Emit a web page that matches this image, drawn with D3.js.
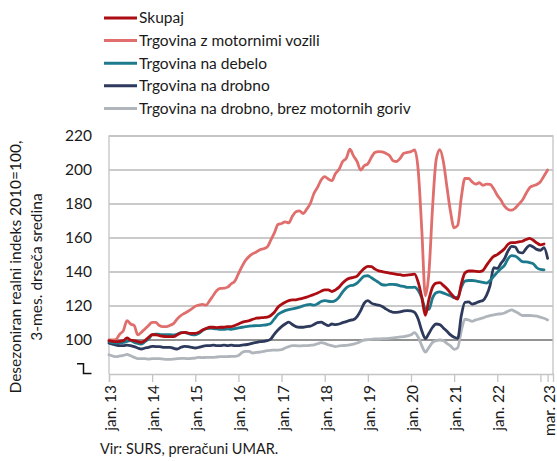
<!DOCTYPE html>
<html>
<head>
<meta charset="utf-8">
<script src="https://cdn.jsdelivr.net/npm/d3@7/dist/d3.min.js"></script>
<style>
	body { margin: 0; background: #fff; }
	svg { display: block; font-family: Lato, 'Open Sans', sans-serif; }
	.lbl { font-size: 15.5px; fill: #1a1a1a; }
</style>
</head>
<body>
<script>

// mesečni podatki jan. 2013 - mar. 2023
const months = d3.range( 123 ),

	skupaj = [ 99.6, 99.2, 99, 99.2, 99.6, 101.2, 100, 99.6, 99, 98.6, 99.6, 101.6,
		103.1, 103.1, 102.6, 102.2, 102, 102, 102, 103.1, 104.1, 104.5, 104.1, 103.9,
		103.9, 104.5, 105.9, 106.7, 107.5, 107.5, 107.3, 107.5, 107.5, 107.9, 107.9, 108.5,
		109.4, 110.4, 111, 111.4, 112.2, 112.8, 113, 113.2, 113.4, 114.4, 116.3, 119.3,
		120.9, 122.2, 123.2, 123.6, 123.6, 124.2, 124.6, 125.2, 126, 126.8, 127.6, 128.7,
		129.5, 129.5, 128.5, 129.5, 131.1, 133.5, 135.4, 136.4, 136.8, 137.6, 140, 142.1,
		143.3, 143.1, 141.7, 140.7, 140.2, 139.8, 139.4, 139, 138.6, 138.4, 138, 138.2,
		138.4, 138.8, 134, 125.2, 114.5, 124, 131.1, 133.5, 133.7, 132.1, 130.1, 127.6,
		125.2, 124, 133, 139.4, 140.6, 140.6, 140.4, 140.2, 140.9, 143.9, 146.9, 149.2,
		150.2, 151.8, 153.7, 156.3, 157.3, 157.3, 157.7, 158.1, 159.1, 159.8, 158.7, 157.1,
		156, 156.5, null ],

	vozila = [ 100, 100, 100.5, 103.5, 105.5, 111.4, 109.4, 108.5, 103, 104.5, 106.5, 108.5,
		110.4, 110.4, 108.5, 107.9, 107.9, 108.7, 109.8, 112.4, 114.4, 115.7, 116.9, 118.3,
		119.9, 120.5, 120.9, 120.5, 123.2, 126.2, 129.1, 130.3, 130.5, 131.1, 133.1, 134.6,
		139, 143.3, 146.9, 149.2, 150.8, 151.8, 153.1, 153.7, 154.7, 158.7, 163, 167.9,
		168.5, 169.5, 168.9, 172.8, 175.4, 175.9, 174.4, 177, 180.3, 186.2, 189.8, 194.1,
		196.1, 194.7, 193.7, 198, 200.4, 205, 206.9, 212.2, 208.3, 205, 200, 202.5,
		203.7, 207.5, 210.4, 210.8, 210.6, 209.8, 208.5, 205.5, 205, 206.9, 209.8, 210.4,
		210.8, 211.8, 200, 165, 126, 140, 178, 206, 212, 205, 190, 175.4,
		166, 167.5, 184, 195, 195, 193, 191.7, 192.5, 191, 191.7, 191.5, 189,
		185.2, 182.3, 178.7, 176.8, 176.4, 177.6, 179.9, 182.3, 186.2, 189.6, 190.7, 191.5,
		193.1, 196.5, 200 ],

	debelo = [ 99.2, 98.4, 98.2, 98.4, 98.6, 99.2, 99.6, 98.6, 98, 97.6, 99, 100.6,
		103.1, 103.5, 103.3, 103.1, 103.1, 103.1, 103, 103.5, 104.3, 104.3, 103.9, 103.1,
		103, 103.9, 105.5, 106.7, 106.9, 106.7, 106.5, 106.3, 106.3, 106.5, 106.3, 106.7,
		107.1, 107.5, 107.9, 108.1, 108.3, 108.5, 108.5, 108.7, 109.1, 109.8, 112.4, 115,
		116.3, 117.3, 117.9, 118.3, 118.7, 119.3, 120.1, 120.7, 120.9, 120.5, 121.3, 122.6,
		123.2, 122.8, 122.6, 123.2, 125.2, 128.3, 130.7, 131.9, 132.3, 133.5, 135.6, 137.6,
		137.8, 136.6, 135.2, 133.9, 132.5, 132.3, 132.7, 132.7, 132.5, 131.9, 131.5, 130.9,
		130.9, 131.1, 129.1, 124.8, 118.5, 118, 124.8, 127.8, 128.3, 127.6, 126.8, 126,
		124.8, 125.2, 131.1, 134.6, 135, 135, 134.8, 134.3, 133.9, 133.5, 135, 137.4,
		139.8, 141.9, 143.9, 147.8, 149.6, 149.4, 147.8, 146.1, 145.9, 145.5, 144.9, 142.5,
		141.5, 141.3, null ],

	drobno = [ 98.2, 97.6, 97, 96.7, 96.7, 97, 96.7, 96.1, 95.3, 94.7, 95.3, 95.7,
		96.3, 96.1, 96.1, 95.7, 95.7, 95.7, 95.1, 94.7, 95.7, 96.3, 96.1, 95.7,
		95.3, 95.7, 96.3, 96.7, 96.7, 97, 96.7, 96.7, 97, 96.7, 97, 96.7,
		96.7, 97, 97.2, 97.6, 98.2, 98.6, 99, 99.2, 99.6, 100.6, 103.5, 105.9,
		107.9, 109.4, 110.5, 109.1, 107.9, 107.5, 107.5, 107.9, 108.1, 109.1, 110.2, 110.5,
		109.4, 108.4, 109.4, 109.1, 109.4, 110.2, 110.8, 111.6, 112, 113.8, 117.3, 121.7,
		123.2, 121.7, 120.9, 120.5, 119.7, 118.3, 117.1, 116.3, 116.3, 116.5, 117.1, 117.3,
		117.1, 116.3, 112.4, 105.5, 100.8, 104, 107.5, 109.4, 109.1, 107.1, 105.1, 103,
		101.6, 101, 114.4, 122.2, 122.4, 121.1, 121.7, 122.6, 123.2, 126.2, 132.1, 142.5,
		142.1, 144.9, 147.8, 152.4, 155.1, 154.7, 151.6, 151.2, 153.7, 155.7, 154.7, 153.3,
		152.8, 154.3, 148 ],

	brezGoriv = [ 91.3, 90.6, 90.2, 90.6, 90.9, 91.5, 90.7, 89.8, 89, 89, 89, 88.8,
		89, 89, 89, 88.8, 88.6, 88.6, 88.8, 89, 89.2, 89.2, 89, 89.2,
		89.4, 89.8, 89.6, 89.8, 89.8, 89.8, 90, 90.2, 90.2, 90.2, 90.4, 90.4,
		90.9, 92.7, 93.3, 93.3, 92.3, 92.7, 92.9, 93.3, 93.7, 93.9, 94.1, 94.1,
		94.3, 95.3, 96.1, 96.7, 96.7, 96.5, 96.7, 96.7, 96.9, 97.2, 97.8, 98.4,
		98, 97.2, 96.7, 96.1, 96.5, 96.7, 96.9, 97.2, 97.6, 98.2, 99.2, 100,
		100.2, 100.4, 100.6, 100.6, 100.8, 100.8, 101, 101.2, 101.6, 101.8, 102, 102.4,
		103.1, 104.3, 101.6, 96.7, 92.9, 95.7, 98.6, 99.6, 100, 99.6, 98, 96.5,
		94.5, 95.5, 105.5, 112.2, 111.8, 111, 111.8, 112.4, 113, 113.8, 114.4, 114.8,
		115.2, 115.4, 115.9, 116.9, 117.7, 116.7, 115.6, 114.4, 114.4, 114.4, 114.2, 114,
		113.4, 112.8, 111.8 ],

	seriesNames = [ 'Skupaj', 'Trgovina z motornimi vozili', 'Trgovina na debelo',
		'Trgovina na drobno', 'Trgovina na drobno, brez motornih goriv' ],
	seriesColors = [ '#ac0d13', '#df6e6c', '#1d7a8c', '#2d3a5c', '#b0b5bb' ],

	yTicks = [ 100, 120, 140, 160, 180, 200, 220 ],
	xTickMonths = [ 0, 12, 24, 36, 48, 60, 72, 84, 96, 108, 120, 122 ],
	xLabels = { 0: 'jan. 13', 12: 'jan. 14', 24: 'jan. 15', 36: 'jan. 16', 48: 'jan. 17',
		60: 'jan. 18', 72: 'jan. 19', 84: 'jan. 20', 96: 'jan. 21', 108: 'jan. 22', 122: 'mar. 23' }

const width = 557,
	height = 461,
	plot = { left: 109, right: 553, top: 136, bottom: 374 },

	x = d3.scaleLinear()
		.domain( [ 0, 123.5 ] )
		.range( [ plot.left, plot.right ] ),

	y = d3.scaleLinear()
		.domain( [ 80, 220 ] )
		.range( [ plot.bottom, plot.top ] ),

	series = [ skupaj, vozila, debelo, drobno, brezGoriv ].map( ( values, i ) => ( {
		name: seriesNames[ i ],
		color: seriesColors[ i ],
		values: months.map( m => ( { m, v: values[ m ] } ) )
	} ) )

const svg = d3.select( 'body' )
	.append( 'svg' )
	.attr( 'width', width )
	.attr( 'height', height )

// mreža
svg.append( 'g' )
	.selectAll( 'line' )
	.data( yTicks )
	.enter()
	.append( 'line' )
	.attr( 'x1', plot.left )
	.attr( 'x2', plot.right )
	.attr( 'y1', d => y( d ) )
	.attr( 'y2', d => y( d ) )
	.attr( 'stroke', d => d === 100 ? '#6e6e6e' : '#b9b9b9' )
	.attr( 'stroke-width', d => d === 100 ? 1.6 : 1.3 )

// okvir
svg.append( 'path' )
	.attr( 'd', `M${ plot.left },${ plot.bottom }V${ plot.top }H${ plot.right }V${ plot.bottom }` )
	.attr( 'fill', 'none' )
	.attr( 'stroke', '#c4c4c4' )
	.attr( 'stroke-width', 1.3 )

// x os
const xAxis = svg.append( 'g' )
	.attr( 'transform', `translate( 0, ${ plot.bottom } )` )
	.call( d3.axisBottom( x )
		.tickValues( xTickMonths )
		.tickSize( 8 )
		.tickFormat( '' ) )

xAxis.select( '.domain' ).attr( 'stroke', '#c4c4c4' ).attr( 'stroke-width', 1.3 )
xAxis.selectAll( '.tick line' ).attr( 'stroke', '#c4c4c4' ).attr( 'stroke-width', 1.3 )

svg.append( 'g' )
	.selectAll( 'text' )
	.data( Object.keys( xLabels ).map( Number ) )
	.enter()
	.append( 'text' )
	.attr( 'class', 'lbl' )
	.attr( 'text-anchor', 'end' )
	.attr( 'transform', d => `translate( ${ x( d ) + 7 }, ${ plot.bottom + 11 } ) rotate( -90 )` )
	.text( d => xLabels[ d ] )

// y os
svg.append( 'g' )
	.selectAll( 'text' )
	.data( yTicks )
	.enter()
	.append( 'text' )
	.attr( 'class', 'lbl' )
	.attr( 'text-anchor', 'end' )
	.attr( 'x', 92 )
	.attr( 'y', d => y( d ) )
	.attr( 'dy', '0.35em' )
	.text( d => d )

// prelom osi
svg.append( 'path' )
	.attr( 'd', `M77,${ y( 86 ) }H83.5V${ plot.bottom - 0.5 }H91.5` )
	.attr( 'fill', 'none' )
	.attr( 'stroke', '#111' )
	.attr( 'stroke-width', 1.5 )

svg.append( 'text' )
	.attr( 'class', 'lbl' )
	.attr( 'text-anchor', 'middle' )
	.attr( 'transform', 'translate( 21, 267 ) rotate( -90 )' )
	.text( 'Desezoniran realni indeks 2010=100,' )

svg.append( 'text' )
	.attr( 'class', 'lbl' )
	.attr( 'text-anchor', 'middle' )
	.attr( 'transform', 'translate( 42, 267 ) rotate( -90 )' )
	.text( '3-mes. drseča sredina' )

// črte
const line = d3.line()
	.defined( d => d.v !== null )
	.x( d => x( d.m ) )
	.y( d => y( d.v ) )
	.curve( d3.curveMonotoneX )

svg.append( 'g' )
	.selectAll( 'path' )
	.data( series.slice().reverse() )
	.enter()
	.append( 'path' )
	.attr( 'fill', 'none' )
	.attr( 'stroke', d => d.color )
	.attr( 'stroke-width', 2.8 )
	.attr( 'stroke-linejoin', 'round' )
	.attr( 'stroke-linecap', 'round' )
	.attr( 'd', d => line( d.values ) )

// legenda
const legend = svg.append( 'g' )
	.selectAll( 'g' )
	.data( series )
	.enter()
	.append( 'g' )
	.attr( 'transform', ( d, i ) => `translate( 104, ${ 18 + i * 22.6 } )` )

legend.append( 'line' )
	.attr( 'x1', 0 )
	.attr( 'x2', 33 )
	.attr( 'stroke', d => d.color )
	.attr( 'stroke-width', 3 )

legend.append( 'text' )
	.attr( 'class', 'lbl' )
	.attr( 'x', 35 )
	.attr( 'dy', '0.35em' )
	.text( d => d.name )

svg.append( 'text' )
	.attr( 'class', 'lbl' )
	.attr( 'x', 100 )
	.attr( 'y', 454 )
	.style( 'font-size', '14.5px' )
	.text( 'Vir: SURS, preračuni UMAR.' )

</script>
</body>
</html>
